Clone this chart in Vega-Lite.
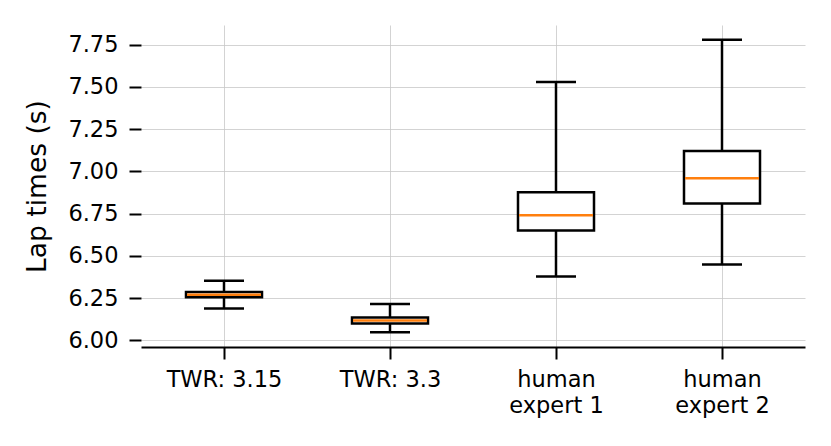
{
  "$schema": "https://vega.github.io/schema/vega-lite/v6.json",
  "width": 664,
  "height": 322,
  "autosize": "none",
  "padding": {"left": 141, "top": 25, "right": 26, "bottom": 99},
  "background": "white",
  "config": {
    "font": "DejaVu Sans",
    "view": {"stroke": null},
    "axis": {
      "gridColor": "#c8c8c8",
      "gridWidth": 0.8,
      "tickColor": "black",
      "tickWidth": 2,
      "tickSize": 12,
      "labelColor": "black",
      "titleColor": "black",
      "labelFont": "DejaVu Sans",
      "titleFont": "DejaVu Sans"
    }
  },
  "data": {
    "values": [
      {"name": "TWR: 3.15", "lower": 6.188, "q1": 6.254, "median": 6.27, "q3": 6.285, "upper": 6.353},
      {"name": "TWR: 3.3", "lower": 6.047, "q1": 6.099, "median": 6.117, "q3": 6.134, "upper": 6.215},
      {"name": "human expert 1", "lower": 6.378, "q1": 6.65, "median": 6.74, "q3": 6.876, "upper": 7.53},
      {"name": "human expert 2", "lower": 6.449, "q1": 6.81, "median": 6.96, "q3": 7.121, "upper": 7.78}
    ]
  },
  "encoding": {
    "x": {
      "field": "name",
      "type": "nominal",
      "sort": null,
      "scale": {"type": "point", "padding": 0.5},
      "axis": {
        "title": null,
        "labelAngle": 0,
        "labelFontSize": 22.5,
        "labelPadding": 9,
        "labelLineHeight": 26,
        "domainColor": "black",
        "domainWidth": 2.2,
        "grid": true,
        "labelExpr": "indexof(datum.label, 'human') == 0 ? ['human', slice(datum.label, 6)] : datum.label"
      }
    }
  },
  "layer": [
    {
      "mark": {"type": "rule", "color": "black", "strokeWidth": 2.5},
      "encoding": {
        "y": {
          "field": "lower",
          "type": "quantitative",
          "scale": {"domain": [5.96, 7.867], "nice": false, "zero": false},
          "axis": {
            "title": "Lap times (s)",
            "titleFontSize": 26.5,
            "titleFontWeight": "normal",
            "titlePadding": 16,
            "labelFontSize": 22.5,
            "labelPadding": 11,
            "values": [6.0, 6.25, 6.5, 6.75, 7.0, 7.25, 7.5, 7.75],
            "format": ".2f",
            "domain": false,
            "grid": true
          }
        },
        "y2": {"field": "upper"}
      }
    },
    {
      "mark": {"type": "bar", "fill": "white", "stroke": "black", "strokeWidth": 2.5, "width": 76},
      "encoding": {
        "y": {"field": "q1", "type": "quantitative"},
        "y2": {"field": "q3"}
      }
    },
    {
      "mark": {"type": "tick", "color": "black", "opacity": 1, "size": 40, "thickness": 2.5},
      "encoding": {"y": {"field": "lower", "type": "quantitative"}}
    },
    {
      "mark": {"type": "tick", "color": "black", "opacity": 1, "size": 40, "thickness": 2.5},
      "encoding": {"y": {"field": "upper", "type": "quantitative"}}
    },
    {
      "mark": {"type": "tick", "color": "#ff7f0e", "opacity": 1, "size": 74, "thickness": 2.5},
      "encoding": {"y": {"field": "median", "type": "quantitative"}}
    }
  ]
}
